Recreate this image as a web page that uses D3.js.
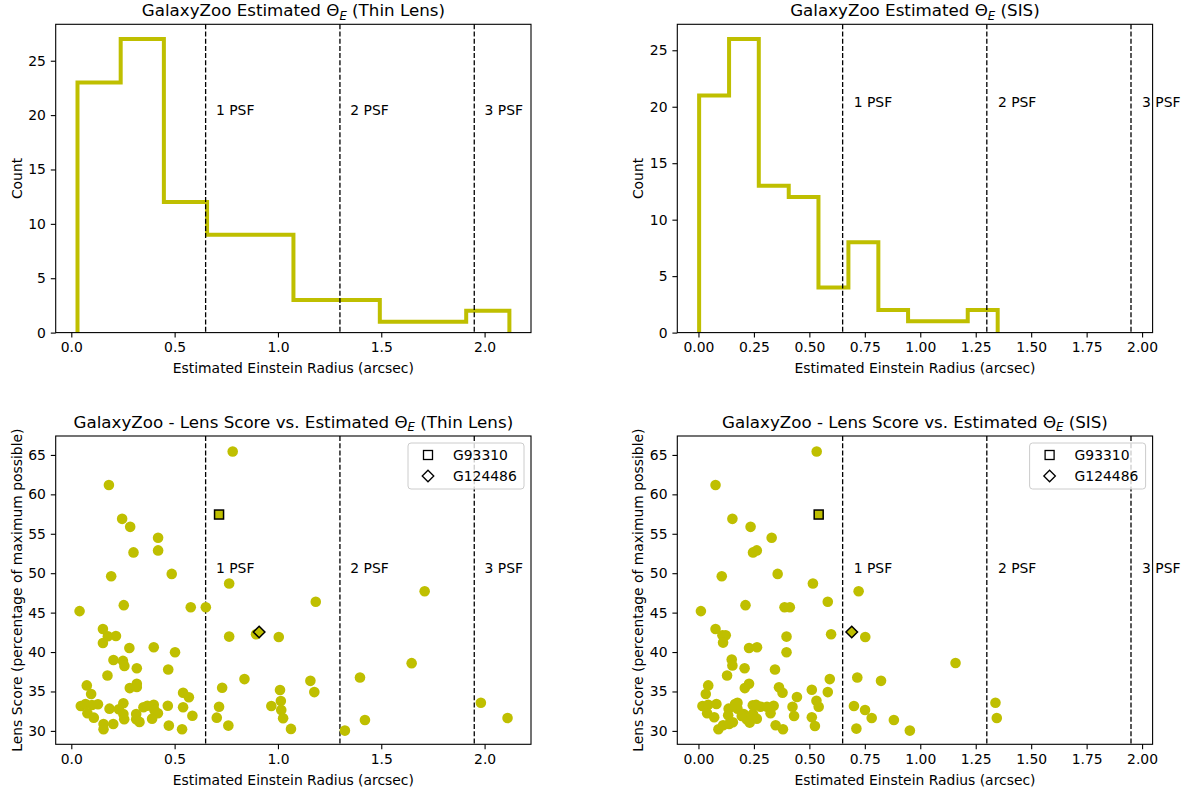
<!DOCTYPE html>
<html>
<head>
<meta charset="utf-8">
<script src="https://cdn.jsdelivr.net/npm/d3@7"></script>
<style>
  body { margin: 0; background: #fff; }
  text { font-family: "DejaVu Sans", sans-serif; fill: #000; }
  .tick line { stroke: #000; stroke-width: 1.1; }
</style>
</head>
<body>
<script>
// histogram bins (edges + counts)
var thinEdges = [0.03, 0.239, 0.448, 0.657, 0.866, 1.075, 1.284, 1.493, 1.702, 1.911, 2.12];
var thinCounts = [23, 27, 12, 9, 9, 3, 3, 1, 1, 2];
var sisEdges = [0.003, 0.138, 0.272, 0.407, 0.541, 0.676, 0.811, 0.945, 1.080, 1.214, 1.349];
var sisCounts = [21, 26, 13, 12, 4, 8, 2, 1, 1, 2];

var psfLines = [0.65, 1.3, 1.95];
var psfLabels = ["1 PSF", "2 PSF", "3 PSF"];

// lens score vs theta_E (thin lens)
var thinX = [0.182, 0.246, 0.285, 0.420, 0.420, 0.301, 0.193, 0.486, 0.040, 0.254, 0.578, 0.651,
  0.153, 0.177, 0.216, 0.153, 0.281, 0.399, 0.502, 0.204, 0.250, 0.257, 0.317, 0.469, 0.175,
  0.075, 0.096, 0.283, 0.317, 0.317, 0.541, 0.569, 0.046, 0.069, 0.100, 0.129, 0.078, 0.109,
  0.185, 0.230, 0.252, 0.252, 0.256, 0.314, 0.314, 0.330, 0.349, 0.368, 0.399, 0.402, 0.419,
  0.391, 0.467, 0.541, 0.586, 0.156, 0.156, 0.203, 0.472, 0.536,
  0.781, 0.764, 1.183, 0.764, 0.894, 1.004, 0.838, 1.157, 0.730, 1.010, 1.176, 1.014, 0.715,
  0.968, 1.016, 0.704, 1.025, 0.760, 1.063, 1.397, 1.421, 1.324, 1.647, 1.710, 1.982, 2.111];
var thinY = [61.19, 56.89, 55.88, 54.49, 52.89, 52.64, 49.61, 49.91, 45.19, 45.95, 45.69, 45.69,
  42.92, 42.00, 42.03, 41.15, 40.52, 40.61, 39.97, 39.00, 38.88, 38.24, 37.95, 37.79, 37.03,
  35.77, 34.67, 35.43, 35.97, 35.56, 34.84, 34.26, 33.16, 33.41, 33.28, 33.37, 32.23, 31.68,
  32.82, 32.74, 33.50, 32.15, 31.48, 32.15, 31.48, 31.14, 32.99, 33.19, 33.32, 32.65, 32.23,
  31.55, 33.19, 32.99, 31.93, 30.88, 30.21, 30.88, 30.67, 30.21,
  65.44, 48.69, 46.38, 41.96, 42.25, 41.91, 36.57, 36.35, 35.47, 35.18, 34.92, 33.79, 33.07,
  33.16, 32.65, 31.68, 31.60, 30.67, 30.25, 36.78, 31.39, 30.04, 38.59, 47.71, 33.57, 31.64];

// lens score vs theta_E (SIS)
var sisX = [0.533, 0.077, 0.153, 0.235, 0.330, 0.246, 0.263, 0.105, 0.357, 0.516, 0.011, 0.212,
  0.388, 0.412, 0.583, 0.077, 0.108, 0.123, 0.111, 0.598, 0.397, 0.228, 0.264, 0.397, 0.150,
  0.153, 0.208, 0.345, 0.129, 0.592, 0.044, 0.033, 0.209, 0.228, 0.363, 0.379, 0.444, 0.511,
  0.583, 0.018, 0.044, 0.081, 0.039, 0.071, 0.136, 0.176, 0.176, 0.134, 0.204, 0.217, 0.231,
  0.246, 0.245, 0.263, 0.280, 0.309, 0.339, 0.325, 0.424, 0.431, 0.532, 0.542, 0.511, 0.525,
  0.090, 0.111, 0.138, 0.348, 0.381, 0.165, 0.195, 0.240, 0.155, 0.260,
  0.722, 0.752, 1.159, 0.716, 0.823, 0.701, 0.751, 0.781, 0.881, 0.712, 0.953, 1.339, 1.345];
var sisY = [65.44, 61.19, 56.89, 55.88, 54.49, 52.64, 52.89, 49.61, 49.91, 48.69, 45.19, 45.95,
  45.69, 45.69, 46.38, 42.92, 42.12, 42.12, 41.20, 42.25, 41.96, 40.52, 40.61, 39.97, 39.05,
  38.30, 37.95, 37.79, 37.03, 36.57, 35.77, 34.67, 35.43, 35.97, 35.52, 34.84, 34.29, 35.21,
  34.92, 33.16, 33.32, 33.41, 32.23, 31.73, 32.82, 33.57, 32.82, 31.98, 32.15, 31.48, 31.05,
  32.15, 33.24, 31.55, 33.07, 33.07, 33.19, 32.23, 33.07, 31.89, 33.83, 33.07, 31.73, 30.63,
  30.21, 30.72, 30.88, 30.72, 30.21, 33.40, 31.90, 31.95, 31.10, 33.30,
  47.71, 41.91, 38.62, 36.78, 36.35, 33.16, 32.65, 31.64, 31.39, 30.29, 30.04, 33.57, 31.64];

var hlNames = ["G93310", "G124486"];
var hlThinX = [0.715, 0.909];
var hlSisX = [0.542, 0.691];
var hlY = [57.44, 42.54];

var yellow = "#bfbf00";
var fs = 13.9;
var width = 1186, height = 790;

var svg = d3.select("body").append("svg")
  .attr("width", width)
  .attr("height", height);

var cols = [[55.7, 531], [677.3, 1152.6]];
var rows = [[24.3, 332.6], [436, 744.3]];

function panel(col, row, xdom, ydom, xticks, yticks, xfmt) {
  var g = svg.append("g");
  var x = d3.scaleLinear().domain(xdom).range(cols[col]);
  var y = d3.scaleLinear().domain(ydom).range([rows[row][1], rows[row][0]]);
  g.append("g")
    .attr("transform", "translate(0," + rows[row][1] + ")")
    .call(d3.axisBottom(x).tickValues(xticks).tickFormat(d3.format(xfmt)).tickSize(4.9).tickPadding(4.6).tickSizeOuter(0))
    .call(a => a.select(".domain").remove());
  g.append("g")
    .attr("transform", "translate(" + cols[col][0] + ",0)")
    .call(d3.axisLeft(y).tickValues(yticks).tickSize(4.9).tickPadding(4.9).tickSizeOuter(0))
    .call(a => a.select(".domain").remove());
  g.selectAll(".tick text").attr("font-family", "DejaVu Sans").attr("font-size", fs).attr("fill", "#000");
  return { g: g, x: x, y: y };
}

function frame(p, col, row) {
  p.g.append("rect")
    .attr("x", cols[col][0]).attr("y", rows[row][0])
    .attr("width", cols[col][1] - cols[col][0])
    .attr("height", rows[row][1] - rows[row][0])
    .attr("fill", "none").attr("stroke", "#000").attr("stroke-width", 1.1);
}

function psf(p, row, ylab) {
  p.g.selectAll(".psf").data(psfLines).enter().append("line")
    .attr("x1", d => p.x(d)).attr("x2", d => p.x(d))
    .attr("y1", rows[row][0]).attr("y2", rows[row][1])
    .attr("stroke", "#000").attr("stroke-width", 1.3)
    .attr("stroke-dasharray", "5,2.2");
  p.g.selectAll(".psfl").data(psfLines).enter().append("text")
    .attr("x", d => p.x(d + 0.05)).attr("y", p.y(ylab))
    .attr("font-size", fs)
    .text((d, i) => psfLabels[i]);
}

function title(col, row, pre, post) {
  var t = svg.append("text")
    .attr("x", (cols[col][0] + cols[col][1]) / 2)
    .attr("y", rows[row][0] - 8.5)
    .attr("text-anchor", "middle")
    .attr("font-size", 16.7);
  t.append("tspan").text(pre + "\u0398");
  t.append("tspan").attr("font-size", 11.7).attr("font-style", "italic").attr("dy", 3.8).text("E");
  t.append("tspan").attr("dy", -3.8).text(" " + post);
}

function labels(col, row, ylabel) {
  svg.append("text")
    .attr("x", (cols[col][0] + cols[col][1]) / 2)
    .attr("y", rows[row][1] + 40.5)
    .attr("text-anchor", "middle").attr("font-size", fs)
    .text("Estimated Einstein Radius (arcsec)");
  var cx = 21.5, cy = (rows[row][0] + rows[row][1]) / 2;
  svg.append("text")
    .attr("transform", "translate(" + (cols[col][0] - 55.7 + cx) + "," + cy + ") rotate(-90)")
    .attr("text-anchor", "middle").attr("font-size", fs)
    .text(ylabel);
}

function hist(p, edges, counts) {
  var pts = [[edges[0], 0]];
  counts.forEach((c, i) => { pts.push([edges[i], c]); pts.push([edges[i + 1], c]); });
  pts.push([edges[edges.length - 1], 0]);
  p.g.append("path")
    .attr("d", d3.line().x(d => p.x(d[0])).y(d => p.y(d[1]))(pts))
    .attr("fill", "none").attr("stroke", yellow).attr("stroke-width", 4)
    .attr("stroke-linejoin", "miter");
}

function scatter(p, xs, ys, hx) {
  p.g.selectAll(".pt").data(xs).enter().append("circle")
    .attr("cx", d => p.x(d)).attr("cy", (d, i) => p.y(ys[i]))
    .attr("r", 5.3).attr("fill", yellow);
  p.g.append("rect")
    .attr("x", p.x(hx[0]) - 4.5).attr("y", p.y(hlY[0]) - 4.5)
    .attr("width", 9).attr("height", 9)
    .attr("fill", yellow).attr("stroke", "#000").attr("stroke-width", 1.5);
  p.g.append("path")
    .attr("d", d3.symbol().type(d3.symbolDiamond2).size(85)())
    .attr("transform", "translate(" + p.x(hx[1]) + "," + p.y(hlY[1]) + ")")
    .attr("fill", yellow).attr("stroke", "#000").attr("stroke-width", 1.5);
}

function legend(col) {
  var lx = cols[col][1] - 123, ly = 443;
  var lg = svg.append("g");
  lg.append("rect")
    .attr("x", lx).attr("y", ly).attr("width", 116).attr("height", 46).attr("rx", 3)
    .attr("fill", "#fff").attr("fill-opacity", 0.8).attr("stroke", "#ccc").attr("stroke-width", 1);
  lg.append("rect")
    .attr("x", lx + 15.5).attr("y", ly + 7.5).attr("width", 9).attr("height", 9)
    .attr("fill", "#fff").attr("stroke", "#000").attr("stroke-width", 1.3);
  lg.append("path")
    .attr("d", d3.symbol().type(d3.symbolDiamond2).size(85)())
    .attr("transform", "translate(" + (lx + 20) + "," + (ly + 33) + ")")
    .attr("fill", "#fff").attr("stroke", "#000").attr("stroke-width", 1.3);
  lg.selectAll(".lt").data(hlNames).enter().append("text")
    .attr("x", lx + 45).attr("y", (d, i) => ly + 17 + i * 21)
    .attr("font-size", fs)
    .text(d => d);
}

var leftX = [-0.0755, 2.2246], rightX = [-0.0954, 2.0474];
var leftTicks = [0, 0.5, 1, 1.5, 2], rightTicks = [0, 0.25, 0.5, 0.75, 1, 1.25, 1.5, 1.75, 2];
var histTicks = [0, 5, 10, 15, 20, 25], scoreTicks = [30, 35, 40, 45, 50, 55, 60, 65];

var p1 = panel(0, 0, leftX, [0, 28.35], leftTicks, histTicks, ".1f");
hist(p1, thinEdges, thinCounts);
psf(p1, 0, 20);
frame(p1, 0, 0);
title(0, 0, "GalaxyZoo Estimated ", "(Thin Lens)");
labels(0, 0, "Count");

var p2 = panel(1, 0, rightX, [0, 27.3], rightTicks, histTicks, ".2f");
hist(p2, sisEdges, sisCounts);
psf(p2, 0, 20);
frame(p2, 1, 0);
title(1, 0, "GalaxyZoo Estimated ", "(SIS)");
labels(1, 0, "Count");

var p3 = panel(0, 1, leftX, [28.3, 67.4], leftTicks, scoreTicks, ".1f");
psf(p3, 1, 50);
scatter(p3, thinX, thinY, hlThinX);
frame(p3, 0, 1);
legend(0);
title(0, 1, "GalaxyZoo - Lens Score vs. Estimated ", "(Thin Lens)");
labels(0, 1, "Lens Score (percentage of maximum possible)");

var p4 = panel(1, 1, rightX, [28.3, 67.4], rightTicks, scoreTicks, ".2f");
psf(p4, 1, 50);
scatter(p4, sisX, sisY, hlSisX);
frame(p4, 1, 1);
legend(1);
title(1, 1, "GalaxyZoo - Lens Score vs. Estimated ", "(SIS)");
labels(1, 1, "Lens Score (percentage of maximum possible)");
</script>
</body>
</html>
